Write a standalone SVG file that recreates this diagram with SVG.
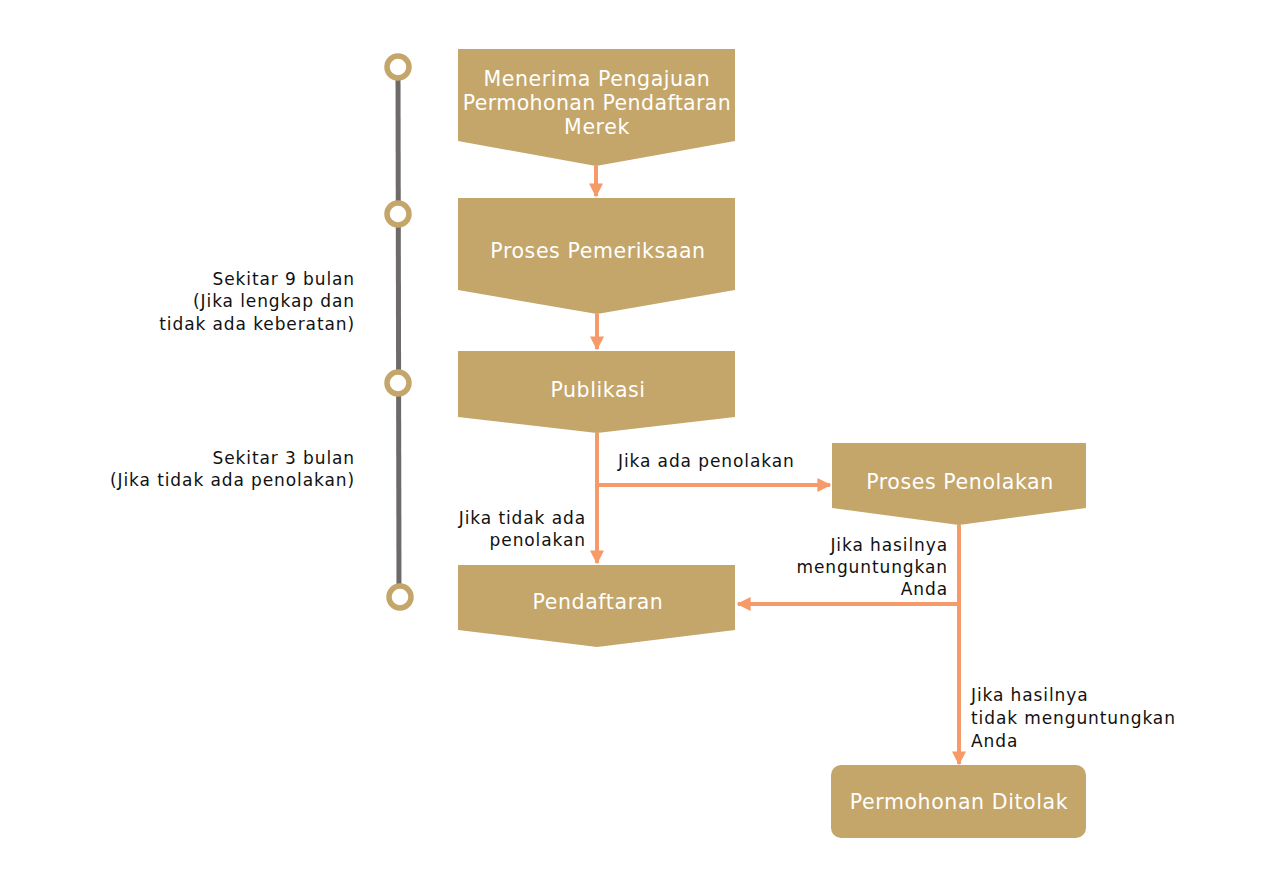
<svg xmlns="http://www.w3.org/2000/svg" width="1261" height="887" viewBox="0 0 1261 887">
<defs>
<style>
.node{fill:#c4a66b}
.nt{font-family:"DejaVu Sans","Noto Sans",sans-serif;font-size:20.5px;fill:#ffffff;text-anchor:middle;letter-spacing:0.6px}
.nt2{letter-spacing:0.4px}
.lb{font-family:"DejaVu Sans","Noto Sans",sans-serif;font-size:17px;fill:#111111;letter-spacing:0.9px}
.r{text-anchor:end}
.conn{stroke:#f79a6a;stroke-width:4;fill:none}
.tl{stroke:#6e6a6a;stroke-width:5}
.dot{fill:#ffffff;stroke:#c4a66b;stroke-width:5.5}
</style>
<marker id="ah" viewBox="0 0 10 10" refX="9" refY="5" markerWidth="3.5" markerHeight="3.5" orient="auto" markerUnits="strokeWidth">
<path d="M0,0 L10,5 L0,10 z" fill="#f79a6a"/>
</marker>
</defs>
<rect width="1261" height="887" fill="#ffffff"/>
<g id="timeline">
<line class="tl" x1="398" y1="67" x2="399" y2="597"/>
<circle class="dot" cx="398" cy="67" r="11"/>
<circle class="dot" cx="398" cy="214" r="11"/>
<circle class="dot" cx="398" cy="383" r="11"/>
<circle class="dot" cx="400" cy="597" r="11"/>
</g>
<g id="timeline-labels">
<text class="lb r" x="355" y="285">Sekitar 9 bulan</text>
<text class="lb r" x="355" y="307">(Jika lengkap dan</text>
<text class="lb r" x="355" y="330">tidak ada keberatan)</text>
<text class="lb r" x="355" y="464">Sekitar 3 bulan</text>
<text class="lb r" x="355" y="486">(Jika tidak ada penolakan)</text>
</g>
<g id="connectors">
<line class="conn" x1="596" y1="166" x2="596" y2="196" marker-end="url(#ah)"/>
<line class="conn" x1="597" y1="314" x2="597" y2="349" marker-end="url(#ah)"/>
<line class="conn" x1="597" y1="433" x2="597" y2="563" marker-end="url(#ah)"/>
<line class="conn" x1="597" y1="485" x2="830" y2="485" marker-end="url(#ah)"/>
<line class="conn" x1="959" y1="525" x2="959" y2="764" marker-end="url(#ah)"/>
<line class="conn" x1="959" y1="604" x2="738" y2="604" marker-end="url(#ah)"/>
<text class="lb" x="618" y="467">Jika ada penolakan</text>
<text class="lb r" x="586" y="524">Jika tidak ada</text>
<text class="lb r" x="586" y="546">penolakan</text>
<text class="lb r" x="948" y="551">Jika hasilnya</text>
<text class="lb r" x="948" y="573">menguntungkan</text>
<text class="lb r" x="948" y="595">Anda</text>
<text class="lb" x="971" y="701">Jika hasilnya</text>
<text class="lb" x="971" y="724">tidak menguntungkan</text>
<text class="lb" x="971" y="747">Anda</text>
</g>
<g id="n1">
<polygon class="node" points="458,49 735,49 735,141 596,166 458,141"/>
<text class="nt" x="597" y="86">Menerima Pengajuan</text>
<text class="nt nt2" x="597" y="110">Permohonan Pendaftaran</text>
<text class="nt" x="597" y="134">Merek</text>
</g>
<g id="n2">
<polygon class="node" points="458,198 735,198 735,290 597,314 458,290"/>
<text class="nt" x="598" y="258">Proses Pemeriksaan</text>
</g>
<g id="n3">
<polygon class="node" points="458,351 735,351 735,417 597,433 458,417"/>
<text class="nt" x="598" y="397">Publikasi</text>
</g>
<g id="n4">
<polygon class="node" points="832,443 1086,443 1086,508 959,525 832,508"/>
<text class="nt" x="960" y="489">Proses Penolakan</text>
</g>
<g id="n5">
<polygon class="node" points="458,565 735,565 735,630 597,647 458,630"/>
<text class="nt" x="598" y="609">Pendaftaran</text>
</g>
<g id="n6">
<rect class="node" x="831" y="765" width="255" height="73" rx="10"/>
<text class="nt" x="959" y="809">Permohonan Ditolak</text>
</g>
</svg>
